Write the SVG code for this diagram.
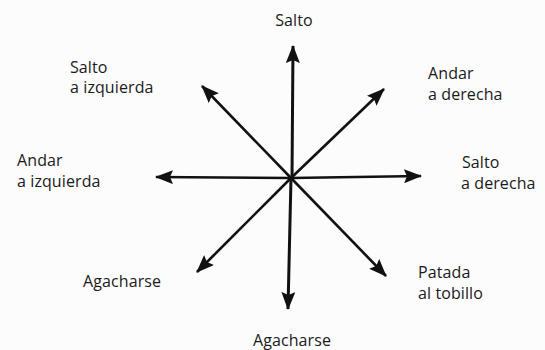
<svg xmlns="http://www.w3.org/2000/svg" width="545" height="350" viewBox="0 0 545 350">
<style>
.lbl{font-family:"Open Sans","Noto Sans",sans-serif;font-size:16px;fill:#1a1a1a;letter-spacing:0.1px}
.ln{stroke:#111;stroke-width:2.6;fill:none;marker-end:url(#ah)}
</style>
<defs>
<marker id="ah" markerUnits="userSpaceOnUse" markerWidth="18" markerHeight="14" refX="17" refY="7" orient="auto">
<path d="M0,0 L18,7 L0,14 L3,7 z" fill="#111"/>
</marker>
</defs>
<rect width="545" height="350" fill="#fcfcfc"/>
<g id="connectors">
<line class="ln" x1="292" y1="178" x2="293" y2="46" style="stroke-width:3"/>
<line class="ln" x1="291" y1="178" x2="288" y2="309" style="stroke-width:3"/>
<line class="ln" x1="291" y1="178" x2="156" y2="177"/>
<line class="ln" x1="291" y1="178" x2="421" y2="176"/>
<line class="ln" x1="291" y1="178" x2="202" y2="86"/>
<line class="ln" x1="291" y1="178" x2="384" y2="89"/>
<line class="ln" x1="291" y1="178" x2="197" y2="272"/>
<line class="ln" x1="291" y1="178" x2="386" y2="276"/>
</g>
<g id="n-salto"><text class="lbl" x="294" y="26" text-anchor="middle">Salto</text></g>
<g id="n-salto-izq"><text class="lbl" x="70" y="73">Salto</text><text class="lbl" x="70" y="93">a izquierda</text></g>
<g id="n-andar-der"><text class="lbl" x="428" y="79">Andar</text><text class="lbl" x="428" y="100">a derecha</text></g>
<g id="n-andar-izq"><text class="lbl" x="17" y="166">Andar</text><text class="lbl" x="17" y="187">a izquierda</text></g>
<g id="n-salto-der"><text class="lbl" x="462" y="168">Salto</text><text class="lbl" x="461" y="189">a derecha</text></g>
<g id="n-agach-izq"><text class="lbl" x="83" y="287">Agacharse</text></g>
<g id="n-patada"><text class="lbl" x="418" y="278">Patada</text><text class="lbl" x="418" y="299">al tobillo</text></g>
<g id="n-agach"><text class="lbl" x="292" y="346" text-anchor="middle">Agacharse</text></g>
</svg>
